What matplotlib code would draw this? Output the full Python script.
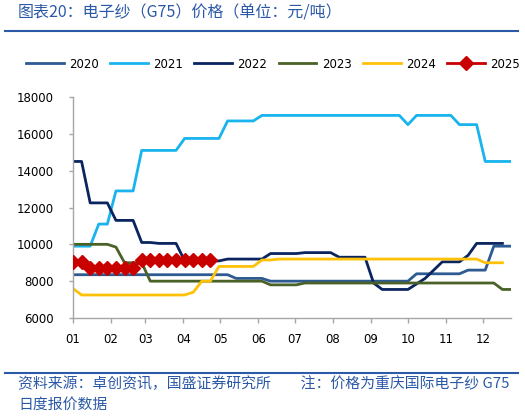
import matplotlib
matplotlib.use("Agg")
import matplotlib.pyplot as plt
from matplotlib.lines import Line2D

# weekly prices (yuan/ton), week 0 = first week of January
price_2020 = [8350, 8350, 8350, 8350, 8350, 8350, 8350, 8350, 8350, 8350,
              8350, 8350, 8350, 8350, 8350, 8350, 8350, 8350, 8350, 8150,
              8150, 8150, 8150, 8000, 8000, 8000, 8000, 8000, 8000, 8000,
              8000, 8000, 8000, 8000, 8000, 8000, 8000, 8000, 8000, 8000,
              8400, 8400, 8400, 8400, 8400, 8400, 8600, 8600, 8600, 9900,
              9900, 9900]
price_2021 = [9900, 9900, 9900, 11100, 11100, 12900, 12900, 12900, 15100, 15100,
              15100, 15100, 15100, 15750, 15750, 15750, 15750, 15750, 16700, 16700,
              16700, 16700, 17000, 17000, 17000, 17000, 17000, 17000, 17000, 17000,
              17000, 17000, 17000, 17000, 17000, 17000, 17000, 17000, 17000, 16500,
              17000, 17000, 17000, 17000, 17000, 16500, 16500, 16500, 14500, 14500,
              14500, 14500]
price_2022 = [14500, 14500, 12250, 12250, 12250, 11300, 11300, 11300, 10100, 10100,
              10050, 10050, 10050, 9100, 9100, 9100, 9100, 9100, 9200, 9200,
              9200, 9200, 9200, 9500, 9500, 9500, 9500, 9550, 9550, 9550,
              9550, 9300, 9300, 9300, 9300, 7900, 7550, 7550, 7550, 7550,
              7850, 8150, 8600, 9050, 9050, 9050, 9400, 10050, 10050, 10050,
              10050]
price_2023 = [10000, 10000, 10000, 10000, 10000, 9850, 9000, 9000, 9000, 8000,
              8000, 8000, 8000, 8000, 8000, 8000, 8000, 8000, 8000, 8000,
              8000, 8000, 8000, 7800, 7800, 7800, 7800, 7900, 7900, 7900,
              7900, 7900, 7900, 7900, 7900, 7900, 7900, 7900, 7900, 7900,
              7900, 7900, 7900, 7900, 7900, 7900, 7900, 7900, 7900, 7900,
              7550, 7550]
price_2024 = [7600, 7250, 7250, 7250, 7250, 7250, 7250, 7250, 7250, 7250,
              7250, 7250, 7250, 7250, 7400, 8000, 8000, 8800, 8800, 8800,
              8800, 8800, 9150, 9150, 9200, 9200, 9200, 9200, 9200, 9200,
              9200, 9200, 9200, 9200, 9200, 9200, 9200, 9200, 9200, 9200,
              9200, 9200, 9200, 9200, 9200, 9200, 9200, 9200, 9000, 9000,
              9000]
price_2025 = [9050, 9050, 8700, 8700, 8700, 8700, 8700, 8700, 9150, 9150,
              9150, 9150, 9150, 9150, 9150, 9150, 9150]

years = ["2020", "2021", "2022", "2023", "2024", "2025"]
colors = ["#2E5A92", "#19B4EE", "#0A2460", "#4A6128", "#FFC107", "#C80000"]
month_labels = ["01", "02", "03", "04", "05", "06", "07", "08", "09", "10", "11", "12"]
month_start_days = [0, 31, 59, 90, 120, 151, 181, 212, 243, 273, 304, 334]

TEXT_BLUE = "#2B58A6"
CJK = ["Noto Sans CJK SC", "DejaVu Sans"]

plt.rcParams["font.family"] = ["DejaVu Sans"]

fig = plt.figure(figsize=(5.25, 4.18), dpi=100)
ax = fig.add_axes([73 / 525, 100 / 418, 438 / 525, 221 / 418])

series = [price_2020, price_2021, price_2022, price_2023, price_2024, price_2025]
for yr, vals, col in zip(years, series, colors):
    weeks = list(range(len(vals)))
    if yr == "2025":
        ax.plot(weeks, vals, color=col, lw=2.0, marker="D", ms=7,
                mec=col, mfc=col, label=yr, zorder=5)
    else:
        ax.plot(weeks, vals, color=col, lw=2.0, label=yr)

ax.set_xlim(0, 51)
ax.set_ylim(6000, 18000)
ax.set_yticks(range(6000, 18001, 2000))
ax.set_xticks([d / 7 for d in month_start_days])
ax.set_xticklabels(month_labels)

for s in ("top", "right"):
    ax.spines[s].set_visible(False)
for s in ("left", "bottom"):
    ax.spines[s].set_color("#A6A6A6")
    ax.spines[s].set_linewidth(1.0)
ax.tick_params(axis="y", length=3, width=1, color="#A6A6A6", pad=11, labelsize=8.5)
ax.tick_params(axis="x", length=3.5, width=1, color="#A6A6A6", pad=7, labelsize=8.5)

handles, labels = ax.get_legend_handles_labels()
fig.legend(handles, labels, loc="center", bbox_to_anchor=(273 / 525, 1 - 64 / 418),
           ncol=6, frameon=False, fontsize=8.5, handlelength=3.2,
           handletextpad=0.45, columnspacing=0.95, numpoints=1)

# header / footer
fig.text(18 / 525, 1 - 13 / 418, "图表20：电子纱（G75）价格（单位：元/吨）",
         family=CJK, fontsize=11.5, color=TEXT_BLUE, va="center", ha="left")
fig.add_artist(Line2D([5 / 525, 518 / 525], [1 - 31 / 418, 1 - 31 / 418],
                      color="#2B5AA8", lw=1.5, transform=fig.transFigure))
fig.add_artist(Line2D([5 / 525, 518 / 525], [1 - 373 / 418, 1 - 373 / 418],
                      color="#2B5AA8", lw=1.5, transform=fig.transFigure))
fig.text(18 / 525, 1 - 384 / 418,
         "资料来源：卓创资讯，国盛证券研究所　　注：价格为重庆国际电子纱 G75",
         family=CJK, fontsize=10.7, color=TEXT_BLUE, va="center", ha="left")
fig.text(18 / 525, 1 - 405 / 418, "日度报价数据",
         family=CJK, fontsize=10.7, color=TEXT_BLUE, va="center", ha="left")

fig.savefig("out.png", dpi=100)
